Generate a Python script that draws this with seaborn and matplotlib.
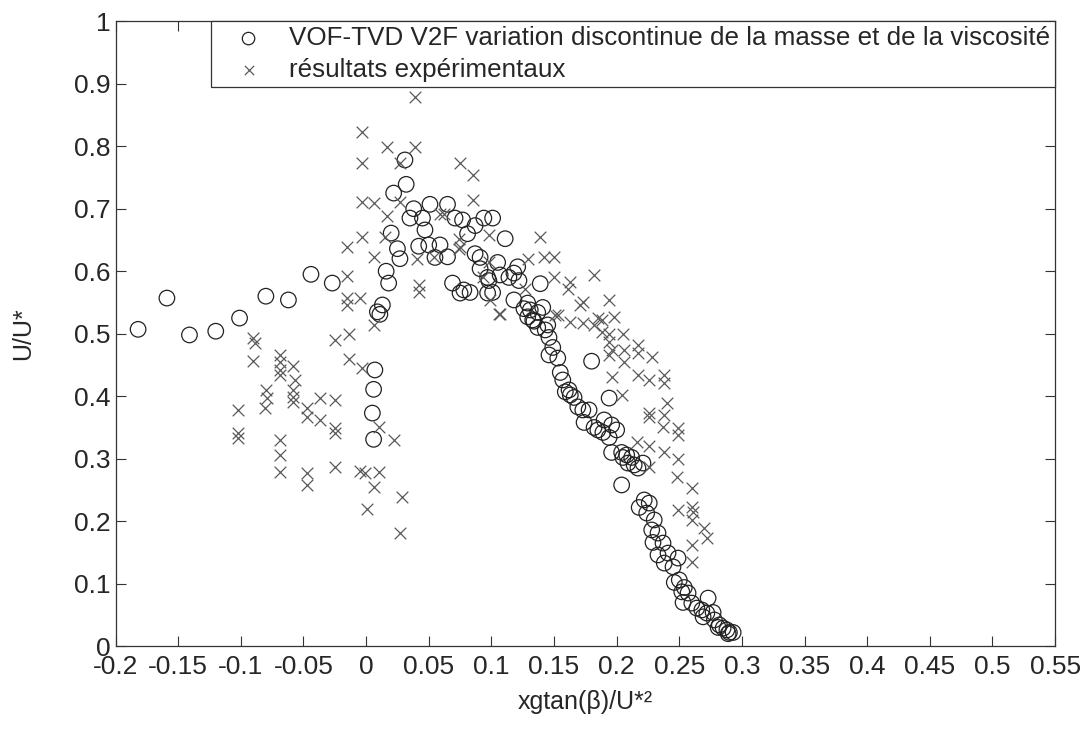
import seaborn as sns
import matplotlib.pyplot as plt
import pandas as pd
import numpy as np

# Simulation (circles)
sim_x = [-0.182, -0.159, -0.141, -0.12, -0.101, -0.08, -0.062, -0.044, -0.027,
         0.007, 0.006, 0.005, 0.006, 0.013, 0.011, 0.009,
         0.016, 0.018, 0.020, 0.022, 0.025, 0.027, 0.031, 0.032, 0.035, 0.038, 0.042, 0.045,
         0.047, 0.051, 0.05, 0.055, 0.059, 0.065, 0.065, 0.071, 0.077, 0.081, 0.087, 0.069,
         0.075, 0.083, 0.087, 0.091, 0.094, 0.098, 0.097, 0.101,
         0.111, 0.121, 0.118, 0.122, 0.105, 0.091, 0.097, 0.101, 0.107, 0.114, 0.118, 0.129,
         0.131, 0.137, 0.139, 0.141, 0.134, 0.145, 0.129, 0.078,
         0.126, 0.133, 0.137, 0.143, 0.146, 0.149, 0.146, 0.153, 0.155, 0.157, 0.159, 0.163,
         0.166, 0.162, 0.169, 0.173, 0.174, 0.178, 0.182, 0.185, 0.189, 0.19, 0.196, 0.2,
         0.194, 0.196, 0.204, 0.205, 0.208, 0.212, 0.209, 0.214, 0.217, 0.221, 0.204, 0.194, 0.18,
         0.218, 0.222, 0.226, 0.224, 0.23, 0.228, 0.233, 0.229, 0.237, 0.233, 0.241, 0.238,
         0.249, 0.245, 0.246, 0.25, 0.254, 0.252, 0.257, 0.253, 0.26, 0.273, 0.264, 0.268,
         0.272, 0.277, 0.269, 0.278, 0.282, 0.285, 0.288, 0.29, 0.293, 0.289, 0.281]
sim_y = [0.507, 0.557, 0.498, 0.504, 0.525, 0.56, 0.554, 0.595, 0.581,
         0.442, 0.411, 0.373, 0.331, 0.546, 0.531, 0.535,
         0.6, 0.581, 0.661, 0.725, 0.636, 0.62, 0.778, 0.739, 0.685, 0.70, 0.64, 0.685,
         0.666, 0.707, 0.642, 0.622, 0.642, 0.623, 0.707, 0.685, 0.682, 0.66, 0.673, 0.581,
         0.565, 0.566, 0.628, 0.604, 0.685, 0.585, 0.565, 0.685,
         0.652, 0.607, 0.597, 0.585, 0.614, 0.622, 0.59, 0.566, 0.594, 0.59, 0.554, 0.549,
         0.538, 0.534, 0.58, 0.542, 0.52, 0.514, 0.527, 0.57,
         0.54, 0.522, 0.51, 0.506, 0.494, 0.478, 0.466, 0.461, 0.438, 0.426, 0.407, 0.402,
         0.398, 0.41, 0.383, 0.378, 0.358, 0.378, 0.35, 0.346, 0.342, 0.362, 0.354, 0.346,
         0.334, 0.31, 0.31, 0.302, 0.306, 0.302, 0.293, 0.29, 0.285, 0.293, 0.258, 0.397, 0.456,
         0.222, 0.234, 0.229, 0.213, 0.202, 0.186, 0.181, 0.166, 0.165, 0.146, 0.149, 0.133,
         0.141, 0.127, 0.102, 0.106, 0.094, 0.087, 0.085, 0.07, 0.069, 0.077, 0.061, 0.058,
         0.053, 0.054, 0.047, 0.042, 0.034, 0.029, 0.026, 0.022, 0.022, 0.02, 0.03]

# Experimental results (crosses)
exp_x = [0.039, -0.003, -0.003, 0.017, 0.039, 0.027, -0.003, 0.006, 0.017, 0.027, -0.003,
         -0.015, -0.015, 0.006, 0.015, -0.015, -0.005, -0.015, 0.042, 0.042, 0.041, 0.054,
         0.059, 0.075, 0.085, 0.085, 0.074, 0.074, 0.098, 0.098, 0.093, 0.099, 0.106,
         -0.09, -0.089, -0.09, -0.102, -0.102, -0.102, -0.08, -0.079, -0.081, -0.069, -0.069,
         -0.069, -0.069, -0.069, -0.069, -0.069, -0.058, -0.057, -0.058, -0.058, -0.058,
         -0.047, -0.047, -0.037, -0.037, -0.047, -0.047, -0.025, -0.025, -0.025, -0.025,
         -0.025, -0.014, -0.014, -0.003, -0.005, -0.001, 0.001, 0.006, 0.006, 0.01, 0.01,
         0.022, 0.029, 0.027,
         0.139, 0.15, 0.142, 0.129, 0.15, 0.163, 0.182, 0.161, 0.173, 0.171, 0.194, 0.198,
         0.188, 0.182, 0.173, 0.163, 0.151, 0.127, 0.107, 0.062, 0.075,
         0.153, 0.185, 0.188, 0.194, 0.205, 0.194, 0.196, 0.194, 0.206, 0.206, 0.217, 0.217,
         0.228, 0.196, 0.204, 0.217, 0.226, 0.238, 0.238, 0.24, 0.226, 0.238, 0.226, 0.237,
         0.249, 0.249, 0.216, 0.226, 0.238, 0.249, 0.226, 0.248, 0.26, 0.249, 0.26, 0.261,
         0.26, 0.27, 0.272, 0.26, 0.26]
exp_y = [0.879, 0.822, 0.773, 0.799, 0.799, 0.773, 0.711, 0.709, 0.688, 0.711, 0.654,
         0.638, 0.592, 0.622, 0.654, 0.557, 0.557, 0.546, 0.578, 0.567, 0.62, 0.622,
         0.692, 0.773, 0.754, 0.714, 0.651, 0.636, 0.658, 0.614, 0.59, 0.554, 0.532,
         0.493, 0.485, 0.456, 0.378, 0.341, 0.333, 0.41, 0.397, 0.381, 0.466, 0.455,
         0.442, 0.434, 0.33, 0.306, 0.279, 0.449, 0.426, 0.41, 0.399, 0.39,
         0.381, 0.367, 0.397, 0.362, 0.277, 0.258, 0.49, 0.394, 0.349, 0.341,
         0.287, 0.499, 0.46, 0.445, 0.28, 0.277, 0.219, 0.514, 0.255, 0.35, 0.279,
         0.33, 0.239, 0.181,
         0.655, 0.622, 0.622, 0.62, 0.59, 0.582, 0.594, 0.572, 0.551, 0.546, 0.554, 0.527,
         0.522, 0.514, 0.517, 0.518, 0.53, 0.572, 0.532, 0.692, 0.638,
         0.53, 0.525, 0.503, 0.5, 0.5, 0.486, 0.474, 0.466, 0.474, 0.454, 0.482, 0.469,
         0.462, 0.43, 0.402, 0.434, 0.426, 0.434, 0.421, 0.389, 0.373, 0.37, 0.366, 0.35,
         0.349, 0.338, 0.327, 0.321, 0.31, 0.3, 0.286, 0.271, 0.253, 0.218, 0.222, 0.215,
         0.202, 0.189, 0.173, 0.162, 0.134]

sim_label = "VOF-TVD V2F variation discontinue de la masse et de la viscosité"
exp_label = "résultats expérimentaux"

sns.set_style("ticks")
plt.rcParams['font.family'] = ['Liberation Sans', 'DejaVu Sans']

fig = plt.figure(figsize=(10.9, 7.31), dpi=100)
ax = fig.add_axes([0.106, 0.116, 0.862, 0.855])

sns.scatterplot(x=sim_x, y=sim_y, ax=ax, marker="o", s=125,
                facecolors="none", edgecolor="#222222", linewidth=0.9,
                label=sim_label)
sns.scatterplot(x=exp_x, y=exp_y, ax=ax, marker="x", s=70,
                color="#5a5a5a", linewidth=0.9, label=exp_label)

ax.set_xlim(-0.2, 0.55)
ax.set_ylim(0, 1)
xt = np.round(np.arange(-0.2, 0.551, 0.05), 2) + 0.0
yt = np.round(np.arange(0, 1.01, 0.1), 1) + 0.0
ax.set_xticks(xt)
ax.set_xticklabels([f"{v:g}" for v in xt])
ax.set_yticks(yt)
ax.set_yticklabels([f"{v:g}" for v in yt])
ax.tick_params(direction="in", length=7, width=0.8, labelsize=19,
               top=True, right=True, color="#333333")
ax.tick_params(axis="x", pad=6)
for s in ax.spines.values():
    s.set_linewidth(0.9)
    s.set_color("#333333")

ax.set_xlabel("xgtan(β)/U*²", fontsize=18, labelpad=8)
ax.set_ylabel("U/U*", fontsize=18, labelpad=28)

leg = ax.legend(loc="upper right", bbox_to_anchor=(1.0, 1.0), borderaxespad=0,
                fontsize=18.7, fancybox=False, framealpha=1, edgecolor="#333333",
                handletextpad=0.3, borderpad=0.2, labelspacing=0.3,
                markerscale=0.8, handlelength=2.5)
leg.get_frame().set_linewidth(0.9)

fig.savefig("out.png", dpi=100)
